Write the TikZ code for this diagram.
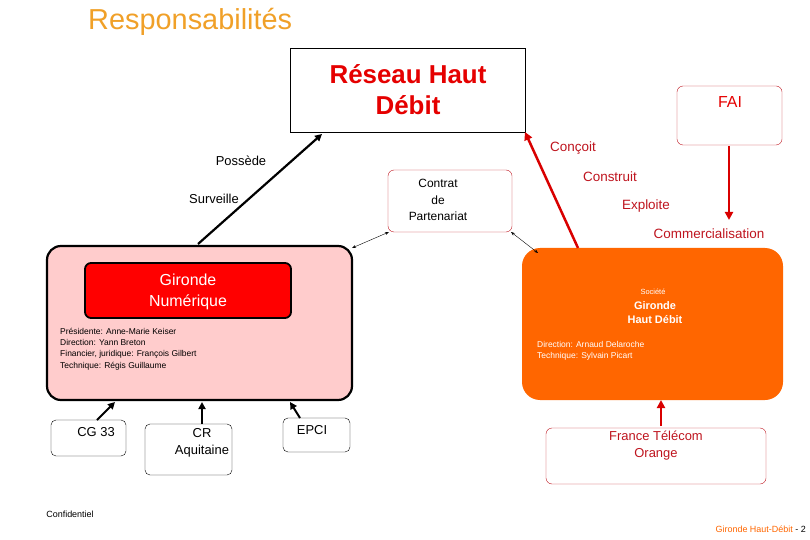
\documentclass[tikz,border=0pt]{standalone}
\usepackage{fontspec}
\setmainfont{Liberation Sans}
\usetikzlibrary{arrows.meta}
\definecolor{ttl}{RGB}{240,160,40}
\definecolor{dred}{RGB}{190,20,30}
\definecolor{pinkb}{RGB}{255,204,204}
\definecolor{orng}{RGB}{255,102,0}
\begin{document}
\begin{tikzpicture}[x=1bp,y=-1bp,
  lbl/.style={inner sep=0pt,font=\fontsize{13}{15}\selectfont},
  rlbl/.style={lbl,text=dred,font=\fontsize{13.5}{15}\selectfont},
  small/.style={inner sep=0pt,align=left},
  sbox/.style={draw,rounded corners=5bp,thin},
  rbox/.style={draw=dred,rounded corners=6bp,thin},
  blk/.style={line width=2.2bp,-{Triangle[length=7bp,width=7bp]}},
  red/.style={draw=red!85!black,line width=2.5bp,-{Triangle[length=8bp,width=8bp]},color=red!85!black},
  dbl/.style={thin,{Stealth[length=4bp]}-{Stealth[length=4bp]}}]
\useasboundingbox (0,0) rectangle (810,540);
\node[anchor=west,inner sep=0pt,text=ttl,font=\fontsize{29}{32}\selectfont] (title) at (88,22) {Responsabilités};
\draw (290,48) rectangle (525,132);
\node[text=red!90!black,font=\bfseries\fontsize{26}{31}\selectfont,align=center] (rhd) at (408,90) {Réseau Haut\\Débit};
\coordinate (rhdR) at (525,132);
\coordinate (rhdL) at (322,134);
\draw[rbox] (677,86) rectangle (782,145);
\node[text=red!90!black,font=\fontsize{16}{18}\selectfont] (fai) at (730,102) {FAI};
\coordinate (faiB) at (729,146);
\draw[rbox] (388,170) rectangle (512,232);
\node[lbl,align=center,font=\fontsize{12}{16.5}\selectfont] (contrat) at (438,200) {Contrat\\de\\Partenariat};
\draw[fill=pinkb,line width=2.2bp,rounded corners=14bp] (47,246) rectangle (352,400);
\draw[fill=red,line width=1.8bp,rounded corners=6bp] (85,263) rectangle (291,318);
\node[text=white,align=center,font=\fontsize{16}{21}\selectfont] (gn) at (188,292) {Gironde\\Numérique};
\node[small,anchor=north west,font=\fontsize{8.5}{11.3}\selectfont] (gntxt) at (60,328) {Présidente: Anne-Marie Keiser\\Direction: Yann Breton\\Financier, juridique: François Gilbert\\Technique: Régis Guillaume};
\fill[orng,rounded corners=18bp] (522,248) rectangle (783,400);
\node[inner sep=0pt,text=white,font=\fontsize{7.5}{9}\selectfont] (soc) at (653,292) {Société};
\node[inner sep=0pt,text=white,align=center,font=\bfseries\fontsize{11}{14}\selectfont] (ghd) at (655,313) {Gironde\\Haut Débit};
\node[small,text=white,anchor=north west,font=\fontsize{8.5}{11}\selectfont] (ghdtxt) at (537,341) {Direction: Arnaud Delaroche\\Technique: Sylvain Picart};
\draw[sbox] (51,420) rectangle (126,456);
\node[lbl] (cg) at (96,432) {CG 33};
\draw[sbox] (145,424) rectangle (232,475);
\node[lbl,align=center,font=\fontsize{13}{17}\selectfont] (cr) at (202,443) {CR\\Aquitaine};
\draw[sbox] (283,418) rectangle (350,452);
\node[lbl] (epci) at (312,430) {EPCI};
\draw[rbox] (546,428) rectangle (766,484);
\node[lbl,text=dred,align=center,font=\fontsize{13}{17}\selectfont] (ft) at (656,446) {France Télécom\\Orange};
\node[lbl] (pos) at (241,161) {Possède};
\node[lbl] (sur) at (214,199) {Surveille};
\node[rlbl] (con) at (573,148) {Conçoit};
\node[rlbl] (cons) at (610,177) {Construit};
\node[rlbl] (exp) at (646,206) {Exploite};
\node[rlbl] (com) at (709,234) {Commercialisation};
\node[inner sep=0pt,font=\fontsize{9}{10}\selectfont] (conf) at (70,514) {Confidentiel};
\node[inner sep=0pt,anchor=east,font=\fontsize{9}{10}\selectfont,text=orng] (foot) at (806,529) {Gironde Haut-Débit \textcolor{black}{- 2}};
\coordinate (gnT) at (198,244);
\coordinate (ghdT) at (578,248);
\coordinate (comA) at (729,220);
\coordinate (gnTR) at (352,248);
\coordinate (ctBL) at (389,232);
\coordinate (ctBR) at (511,232);
\coordinate (ghdTL) at (538,253);
\coordinate (cgT) at (97,420); \coordinate (gnB1) at (115,402);
\coordinate (crT) at (202,424); \coordinate (gnB2) at (202,402);
\coordinate (epT) at (300,418); \coordinate (gnB3) at (290,402);
\coordinate (ftT) at (661,426); \coordinate (ghdB) at (661,400);
\draw[blk] (gnT) -- (rhdL);
\draw[red] (ghdT) -- (rhdR);
\draw[red] (faiB) -- (comA);
\draw[red,line width=2.2bp] (ftT) -- (ghdB);
\draw[dbl] (gnTR) -- (ctBL);
\draw[dbl] (ctBR) -- (ghdTL);
\draw[blk,line width=2bp] (cgT) -- (gnB1);
\draw[blk,line width=2bp] (crT) -- (gnB2);
\draw[blk,line width=2bp] (epT) -- (gnB3);
\end{tikzpicture}
\end{document}
